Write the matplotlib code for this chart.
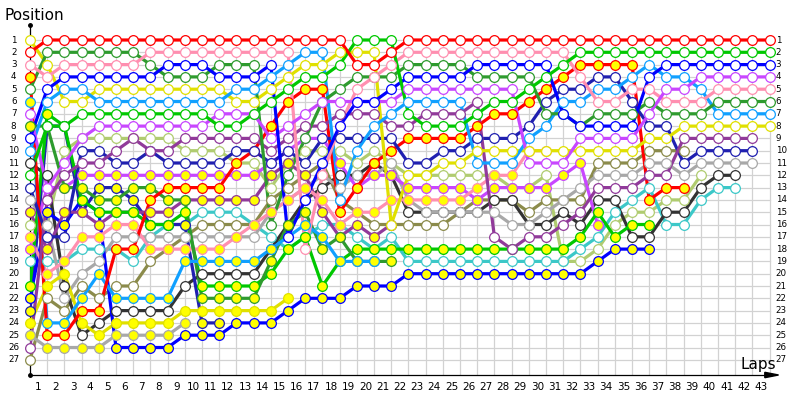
import matplotlib
matplotlib.use("Agg")
import matplotlib.pyplot as plt

# position per lap for each car (index 0 = grid), list stops when the car stops
red = [2, 1, 1, 1, 1, 1, 1, 1, 1, 1, 1, 1, 1, 1, 1, 1, 1, 1, 1, 3, 3, 2, 1, 1, 1, 1, 1, 1, 1, 1, 1, 1, 1, 1, 1, 1, 1, 1, 1, 1, 1, 1, 1, 1]
green = [12, 8, 8, 7, 7, 7, 7, 7, 7, 7, 7, 8, 8, 7, 6, 5, 4, 4, 3, 1, 1, 1, 7, 8, 8, 8, 7, 6, 6, 5, 4, 3, 2, 2, 2, 2, 2, 2, 2, 2, 2, 2, 2, 2]
blue = [9, 5, 4, 4, 4, 4, 4, 4, 3, 3, 3, 4, 4, 4, 3, 17, 14, 11, 8, 6, 6, 5, 4, 4, 4, 4, 3, 3, 3, 3, 3, 7, 8, 8, 8, 8, 4, 3, 3, 3, 3, 3, 3, 3]
violet = [7, 13, 11, 9, 8, 8, 8, 8, 8, 8, 8, 7, 7, 7, 9, 8, 7, 6, 6, 6, 6, 6, 5, 5, 5, 5, 5, 5, 5, 11, 11, 11, 9, 9, 9, 9, 7, 5, 5, 4, 4, 4, 4, 4]
pink = [3, 4, 3, 3, 3, 3, 3, 2, 2, 2, 2, 2, 2, 2, 2, 2, 18, 12, 8, 5, 4, 3, 2, 2, 2, 2, 2, 2, 2, 2, 2, 2, 4, 6, 6, 5, 5, 6, 6, 6, 5, 5, 5, 5]
dkgreen = [5, 2, 2, 2, 2, 2, 2, 3, 4, 4, 4, 3, 3, 3, 16, 12, 9, 6, 5, 4, 4, 4, 3, 3, 3, 3, 4, 4, 4, 4, 7, 7, 8, 7, 7, 7, 6, 7, 7, 7, 6, 6, 6, 6]
ltblue = [10, 6, 5, 5, 6, 6, 6, 6, 6, 6, 6, 6, 5, 5, 4, 3, 2, 2, 14, 10, 8, 7, 6, 6, 6, 6, 11, 11, 11, 9, 8, 6, 6, 5, 5, 4, 3, 4, 4, 5, 7, 7, 7, 7]
yellow = [1, 3, 6, 6, 5, 5, 5, 5, 5, 5, 5, 5, 6, 6, 5, 4, 3, 3, 2, 2, 2, 16, 12, 12, 11, 11, 10, 10, 10, 10, 10, 10, 10, 10, 10, 10, 9, 9, 8, 8, 8, 8, 8, 8]
dkpurple = [26, 14, 12, 11, 11, 10, 9, 10, 10, 9, 9, 9, 9, 9, 10, 9, 8, 8, 7, 7, 7, 8, 8, 7, 7, 7, 6, 17, 18, 17, 17, 16, 15, 13, 13, 13, 12, 12, 9, 9, 9, 9, 9]
navy = [13, 17, 17, 10, 10, 11, 11, 10, 11, 11, 11, 11, 10, 10, 11, 10, 11, 9, 9, 9, 9, 9, 11, 11, 10, 10, 9, 9, 9, 8, 6, 5, 5, 4, 4, 6, 8, 8, 11, 10, 10, 10, 10]
gray = [14, 16, 22, 20, 19, 17, 17, 17, 17, 17, 17, 17, 17, 17, 15, 14, 13, 12, 13, 12, 12, 11, 14, 15, 15, 15, 15, 15, 16, 16, 15, 14, 13, 12, 12, 12, 11, 11, 12, 11, 11, 11, 11]
dkgray = [11, 12, 21, 25, 24, 23, 23, 23, 23, 21, 20, 20, 20, 20, 18, 16, 14, 13, 12, 12, 11, 12, 15, 15, 15, 15, 15, 14, 14, 16, 16, 15, 16, 14, 14, 17, 17, 15, 15, 13, 12, 12]
cyan = [19, 19, 19, 18, 18, 18, 19, 17, 16, 16, 15, 15, 15, 16, 17, 18, 17, 16, 16, 17, 18, 17, 19, 19, 19, 19, 19, 19, 19, 19, 19, 19, 18, 17, 15, 14, 13, 16, 16, 14, 13, 13]
olive = [27, 22, 23, 21, 22, 21, 21, 19, 18, 17, 16, 16, 16, 16, 14, 13, 12, 11, 14, 15, 16, 16, 16, 16, 16, 15, 14, 14, 14, 15, 14, 14, 14, 11, 11, 11, 10, 10, 10]
lime = [16, 16, 10, 9, 9, 9, 9, 9, 9, 10, 10, 10, 11, 11, 13, 11, 10, 10, 10, 11, 10, 11, 12, 12, 12, 12, 12, 12, 13, 13, 12, 19, 19, 18, 16, 15, 15, 14, 14, 12]

# cars drawn with yellow-filled markers
red_y = [4, 25, 25, 23, 23, 18, 18, 14, 13, 13, 13, 13, 11, 10, 8, 6, 5, 5, 15, 13, 11, 10, 9, 9, 9, 9, 8, 7, 7, 6, 5, 4, 3, 3, 3, 3, 14, 13, 13]
ltblue_y = [6, 24, 24, 22, 20, 22, 22, 22, 22, 19, 19, 19, 19, 19, 18, 17, 16, 17, 19, 19, 19]
dkgreen_y = [8, 8, 13, 13, 14, 14, 13, 13, 14, 14, 22, 22, 22, 22, 19, 16, 15, 18, 17, 19, 19, 19]
green_y = [21, 7, 8, 14, 15, 15, 15, 16, 16, 15, 21, 21, 21, 21, 20, 18, 17, 21, 19, 18, 18, 18, 18, 18, 18, 18, 18, 18, 18, 18, 18, 18, 17, 15, 17, 16, 16]
pink_y = [17, 20, 19, 17, 17, 16, 16, 18, 18, 18, 18, 18, 17, 16, 15, 14, 13, 14, 16, 15, 15, 14, 14, 14, 14, 14, 13, 12, 12, 10, 10]
violet_y = [18, 13, 13, 12, 12, 12, 12, 12, 12, 12, 12, 12, 12, 12, 11, 10, 9, 9, 11, 13, 12, 12, 13, 13, 13, 13, 14, 13, 13, 13, 13, 12, 11, 16]
dkpurple_y = [15, 18, 15, 15, 16, 15, 15, 15, 15, 14, 14, 14, 14, 14, 12, 11, 12, 15, 17, 16, 17, 16]
navy_y = [23, 8, 8, 15, 13, 13, 14, 16, 16, 16, 24, 24]
yellow_y = [24, 21, 20, 24, 25, 24, 24, 24, 24, 23, 23, 23, 23, 23, 23, 22]
gray_y = [25, 26, 26, 26, 26, 25, 25, 25, 25, 24]
blue_y = [22, 15, 16, 14, 15, 26, 26, 26, 26, 25, 25, 25, 24, 24, 24, 23, 22, 22, 22, 21, 21, 21, 20, 20, 20, 20, 20, 20, 20, 20, 20, 20, 20, 19, 18, 18, 18]

cars = [
    (lime, "#b0cc70", False), (olive, "#8b8b4b", False), (cyan, "#3cc8c8", False),
    (dkgray, "#333333", False), (gray, "#a8a8a8", False), (gray_y, "#a8a8a8", True),
    (yellow_y, "#e0e000", True), (navy_y, "#2020b0", True), (blue_y, "#0000ff", True),
    (dkpurple_y, "#913a9a", True), (violet_y, "#c846ff", True), (pink_y, "#ff8fb0", True),
    (green_y, "#00c800", True), (dkgreen_y, "#2e9b2e", True), (ltblue_y, "#10a0ff", True),
    (red_y, "#ff0000", True),
    (navy, "#2020b0", False), (dkpurple, "#913a9a", False), (yellow, "#e0e000", False),
    (ltblue, "#10a0ff", False), (dkgreen, "#2e9b2e", False), (pink, "#ff8fb0", False),
    (violet, "#c846ff", False), (blue, "#0000ff", False), (green, "#00c800", False),
    (red, "#ff0000", False),
]

n_laps = 43
n_pos = 27
px_lap = 17.2
px_pos = 12.3

fig = plt.figure(figsize=(8, 4), dpi=100)
ax = fig.add_axes([30 / 800, 25 / 400, 752 / 800, 350 / 400])
x_max = 752 / px_lap
y_top = (25 - 40) / px_pos + 1
y_bot = (375 - 40) / px_pos + 1
ax.set_xlim(0, x_max)
ax.set_ylim(y_bot, y_top)
ax.axis("off")

# grid
for p in range(1, n_pos + 1):
    ax.plot([0, n_laps], [p, p], color="#d2d2d2", lw=0.9, zorder=0)
for lap in range(1, n_laps + 1):
    ax.plot([lap, lap], [0.75, y_bot], color="#d2d2d2", lw=0.9, zorder=0)

# axes with dots and arrow
ax.plot([0, 0], [y_top, y_bot], color="black", lw=0.9, zorder=1, clip_on=False)
ax.plot([0, x_max - 0.6], [y_bot, y_bot], color="black", lw=0.9, zorder=1, clip_on=False)
ax.plot([0, 0], [y_top, y_bot], "o", color="black", ms=2.5, clip_on=False)
ax.fill([x_max - 1.0, x_max - 0.2, x_max - 1.0],
        [y_bot - 0.22, y_bot, y_bot + 0.22], color="black", clip_on=False, zorder=2)

for p in range(1, n_pos + 1):
    ax.text(-0.95, p, str(p), ha="center", va="center", fontsize=6.3, clip_on=False)
    ax.text(n_laps + 0.35, p, str(p), ha="left", va="center", fontsize=6.3, clip_on=False)
for lap in range(1, n_laps + 1):
    ax.text(lap - 0.5, 29.2, str(lap), ha="center", va="center", fontsize=7.5, clip_on=False)

fig.text(5 / 800, 1 - 15 / 400, "Position", ha="left", va="center", fontsize=11)
fig.text(758 / 800, 1 - 364 / 400, "Laps", ha="center", va="center", fontsize=11)

# lines first, then markers on top
for pos, col, filled in cars:
    ax.plot(range(len(pos)), pos, color=col, lw=2.3, solid_capstyle="round", zorder=3)
for pos, col, filled in cars:
    ax.plot(range(len(pos)), pos, "o", ms=7, mew=0.9, mec=col,
            mfc="#ffff00" if filled else "white", zorder=4, clip_on=False)

fig.savefig("out.png", dpi=100)
